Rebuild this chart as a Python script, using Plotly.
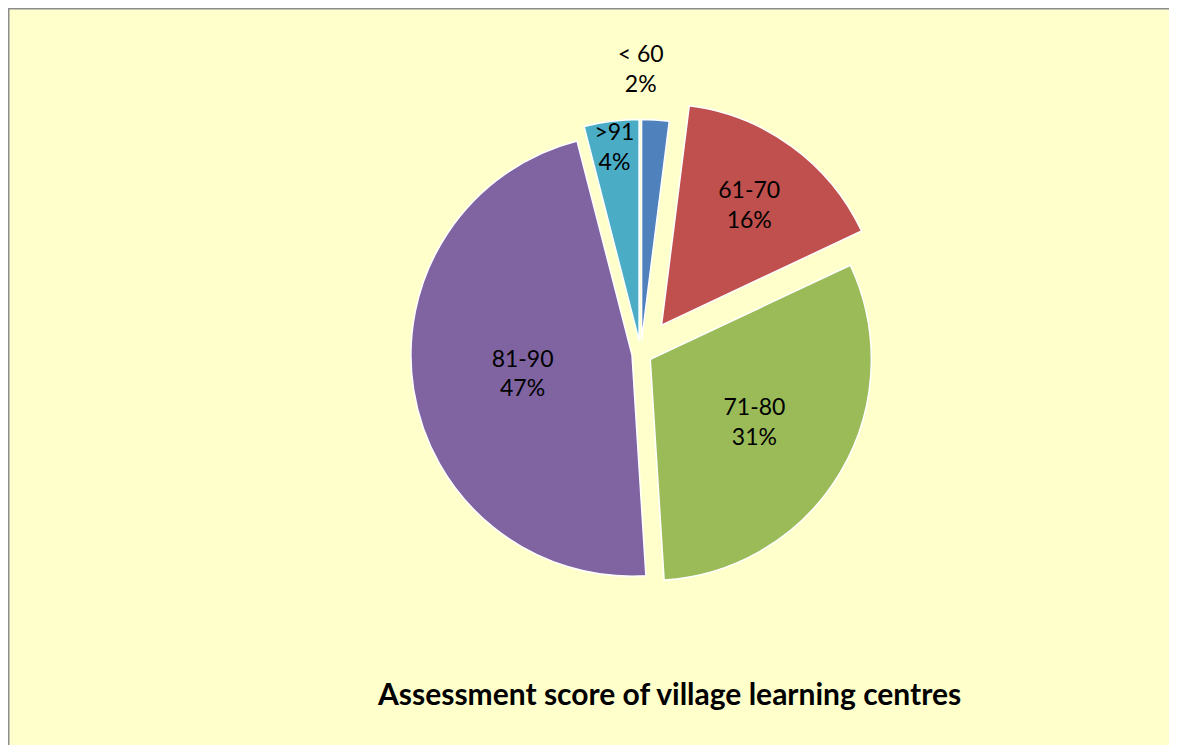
import plotly.graph_objects as go

# Assessment score bands and share of village learning centres (%)
score_bands = ['< 60', '61-70', '71-80', '81-90', '>91']
shares = [2, 16, 31, 47, 4]
slice_colors = ['#4F81BD', '#C0504D', '#9BBB59', '#8064A2', '#4BACC6']
pulls = [0.06, 0.16, 0.05, 0.04, 0.06]

# page body adds 8px round the figure, so keep the figure that much smaller
W, H = 1161, 737
label_font = 'Lato, Open Sans, sans-serif'

# the thin first slice gets its label above the pie, as in the original
text_positions = ['none', 'inside', 'inside', 'inside', 'inside']
top_label = f'{score_bands[0]}<br>{shares[0] / sum(shares):.0%}'

fig = go.Figure(go.Pie(
    labels=score_bands,
    values=shares,
    sort=False,
    direction='clockwise',
    rotation=0,
    pull=pulls,
    marker=dict(colors=slice_colors, line=dict(color='white', width=1.5)),
    texttemplate='%{label}<br>%{percent:.0%}',
    textposition=text_positions,
    insidetextorientation='horizontal',
    textfont=dict(family=label_font, size=23, color='black'),
    title=dict(text=top_label, position='top center',
               font=dict(family=label_font, size=23, color='black')),
    hoverinfo='label+percent',
    showlegend=False,
    domain=dict(x=[0.324, 0.766], y=[0.1829, 0.9574]),
))

# Chart area frame
fig.add_shape(
    type='rect', xref='paper', yref='paper',
    x0=0.5 / W, x1=1.02, y0=-0.02, y1=1 - 0.5 / H,
    fillcolor='#FFFFCC', line=dict(color='#8C8C8C', width=2),
    layer='below',
)

fig.add_annotation(
    text='<b>Assessment score of village learning centres</b>',
    xref='paper', yref='paper', x=661 / W, y=1 - 685 / H,
    xanchor='center', yanchor='middle',
    showarrow=False,
    font=dict(family=label_font, size=30, color='black'),
)

fig.update_layout(
    width=W, height=H,
    margin=dict(l=0, r=0, t=0, b=0),
    paper_bgcolor='white',
    uniformtext=dict(minsize=23, mode='show'),
)

fig.write_html('out.html')
